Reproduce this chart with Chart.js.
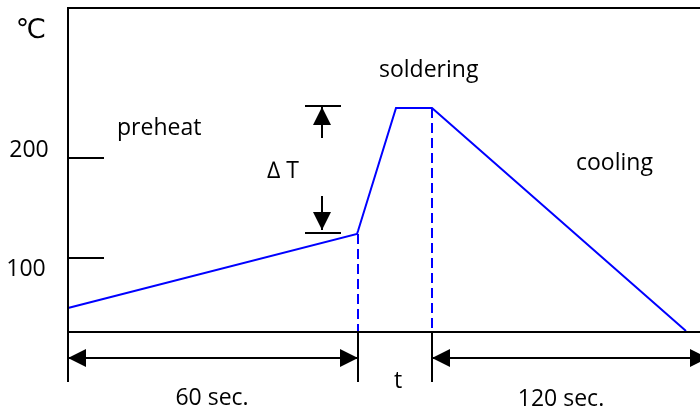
<!DOCTYPE html>
<html>
<head>
<meta charset="utf-8">
<script src="https://cdn.jsdelivr.net/npm/chart.js@4.4.1/dist/chart.umd.min.js"></script>
<style>
  body { margin: 0; background: #fff; }
</style>
</head>
<body>
<canvas id="profile" width="700" height="409"></canvas>
<script>
// temperature profile (x = relative time units, y = deg C)
const profileX = [0, 289, 290, 328, 364, 618];
const profileTemp = [50, 124, 127, 250, 250, 27];

const baseTemp = 26;     // level of the time axis
const topTemp = 350;     // top frame line
const xEnd = 632;
const yTicks = [100, 200];
const tickLabels = ['100', '200'];

// phase boundaries along the time axis
const phaseBounds = [0, 290, 364, 632];
const phaseLabels = ['preheat', 'soldering', 'cooling'];
const durationLabels = ['60 sec.', 't', '120 sec.'];
const deltaLevels = [125, 252];

const black = '#000';
const blue = '#0000ff';
const font = '"Open Sans", "DejaVu Sans", sans-serif';

const lineData = (pts) => pts.map(p => p ? { x: p[0], y: p[1] } : { x: null, y: null });

// frame, axis, ticks, drop lines below axis
const frame = lineData([
  [0, -24], [0, topTemp], [xEnd, topTemp], null,
  [0, baseTemp], [xEnd, baseTemp], null,
  [0, yTicks[0]], [36, yTicks[0]], null,
  [0, yTicks[1]], [36, yTicks[1]], null,
  [phaseBounds[1], baseTemp], [phaseBounds[1], -24], null,
  [phaseBounds[2], baseTemp], [phaseBounds[2], -24], null,
  [237, deltaLevels[0]], [273, deltaLevels[0]], null,
  [237, deltaLevels[1]], [273, deltaLevels[1]]
]);

const dashed = lineData([
  [phaseBounds[1], profileTemp[1]], [phaseBounds[1], baseTemp], null,
  [phaseBounds[2], profileTemp[4]], [phaseBounds[2], baseTemp]
]);

// arrows: [x1, y1, x2, y2, headAtStart, headAtEnd]
const arrows = [
  [phaseBounds[0], 0, phaseBounds[1], 0, true, true],
  [phaseBounds[2], 0, 640, 0, true, true],
  [254, 220, 254, deltaLevels[1] - 1, false, true],
  [254, 162, 254, deltaLevels[0] + 3, false, true]
];

// text: [text, x, y, align, size]
const texts = [
  ['\u2103', -37, 320, 'center', 27],
  [tickLabels[1], -39, 201, 'center', 23],
  [tickLabels[0], -42, 82, 'center', 23],
  [phaseLabels[0], 49, 223, 'left', 23],
  ['\u2206 T', 199, 180, 'left', 23],
  [phaseLabels[1], 311, 281, 'left', 23],
  [phaseLabels[2], 508, 188, 'left', 23],
  [durationLabels[0], 144, -47, 'center', 23],
  [durationLabels[1], 330, -30, 'center', 23],
  [durationLabels[2], 493, -48, 'center', 23]
];

const decorPlugin = {
  id: 'decor',
  afterDatasetsDraw(chart) {
    const { ctx, scales: { x, y } } = chart;
    ctx.save();
    ctx.strokeStyle = black;
    ctx.fillStyle = black;
    ctx.lineWidth = 2;
    const head = (tx, ty, fx, fy) => {
      const a = Math.atan2(ty - fy, tx - fx);
      const len = 18, w = 9;
      ctx.beginPath();
      ctx.moveTo(tx, ty);
      ctx.lineTo(tx - len * Math.cos(a) - w * Math.sin(a), ty - len * Math.sin(a) + w * Math.cos(a));
      ctx.lineTo(tx - len * Math.cos(a) + w * Math.sin(a), ty - len * Math.sin(a) - w * Math.cos(a));
      ctx.closePath();
      ctx.fill();
    };
    arrows.forEach(([x1, y1, x2, y2, s, e]) => {
      const px1 = x.getPixelForValue(x1), py1 = y.getPixelForValue(y1);
      const px2 = x.getPixelForValue(x2), py2 = y.getPixelForValue(y2);
      ctx.beginPath();
      ctx.moveTo(px1, py1);
      ctx.lineTo(px2, py2);
      ctx.stroke();
      if (s) head(px1, py1, px2, py2);
      if (e) head(px2, py2, px1, py1);
    });
    ctx.textBaseline = 'alphabetic';
    texts.forEach(([t, tx, ty, align, size]) => {
      ctx.font = size + 'px ' + font;
      ctx.textAlign = align;
      ctx.fillText(t, x.getPixelForValue(tx), y.getPixelForValue(ty));
    });
    ctx.restore();
  }
};

new Chart(document.getElementById('profile'), {
  type: 'line',
  data: {
    datasets: [
      {
        label: 'frame',
        data: frame,
        borderColor: black,
        borderWidth: 2,
        pointRadius: 0,
        spanGaps: false
      },
      {
        label: 'phase limits',
        data: dashed,
        borderColor: blue,
        borderWidth: 2,
        borderDash: [10, 5],
        pointRadius: 0,
        spanGaps: false
      },
      {
        label: 'temperature',
        data: profileX.map((v, i) => ({ x: v, y: profileTemp[i] })),
        borderColor: blue,
        borderWidth: 2,
        pointRadius: 0,
        tension: 0
      }
    ]
  },
  options: {
    responsive: false,
    animation: false,
    layout: { padding: 0 },
    plugins: {
      legend: { display: false },
      tooltip: { enabled: false }
    },
    scales: {
      x: { type: 'linear', min: -68, max: 632, display: false },
      y: { type: 'linear', min: -51, max: 358, display: false }
    }
  },
  plugins: [decorPlugin]
});
</script>
</body>
</html>
